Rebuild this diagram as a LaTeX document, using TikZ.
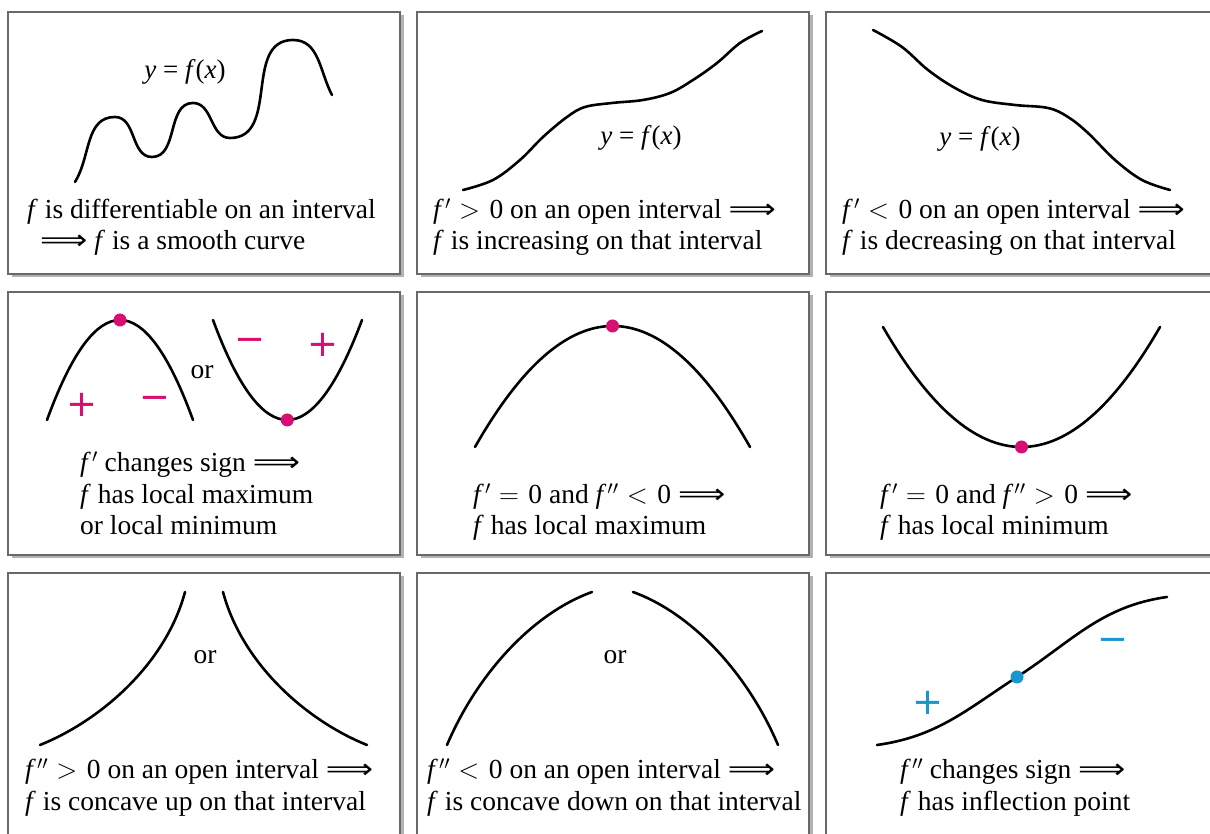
\RequirePackage{fix-cm}
\documentclass[tikz,border=0pt]{standalone}
\usepackage{fontspec}
\setmainfont{Liberation Serif}
\newfontfamily\signfont{DejaVu Sans}
\definecolor{pinkc}{RGB}{215,15,115}
\definecolor{bluec}{RGB}{25,150,210}
\definecolor{boxline}{RGB}{105,105,105}
\definecolor{shadowc}{RGB}{178,178,178}
\tikzset{
  panel/.style={draw=boxline, line width=1.3pt, fill=white},
  curve/.style={line width=2.6pt, line cap=round, black},
  txt/.style={anchor=base west, inner sep=0pt, text height=19pt, text depth=6pt, font=\fontsize{27.5}{31}\selectfont},
  ortxt/.style={inner sep=0pt, font=\fontsize{27.5}{31}\selectfont},
  lbl/.style={inner sep=0pt, font=\fontsize{27}{30}\selectfont},
  dotp/.style={circle, fill=pinkc, minimum size=13pt, inner sep=0pt},
  dotb/.style={circle, fill=bluec, minimum size=13pt, inner sep=0pt},
  sgnp/.style={text=pinkc, inner sep=0pt, font=\signfont\fontsize{37}{37}\selectfont},
  sgnb/.style={text=bluec, inner sep=0pt, font=\signfont\fontsize{37}{37}\selectfont},
}
\newcommand{\imp}{\scalebox{1.2}[1]{\signfont ⟹}}
\newcommand{\fp}{\textit{f}\kern1pt$'$}
\newcommand{\fpp}{\textit{f}\kern1pt$''$}
\newcommand{\ff}{\textit{f}}
\newcommand{\rel}[1]{\hspace{0.3em}$#1$\hspace{0.35em}}
\begin{document}
\begin{tikzpicture}[x=1pt,y=1pt]
\useasboundingbox (0,0) rectangle (1210,834);
\clip (0,0) rectangle (1210,834);
\fill[white] (0,0) rectangle (1210,834);
% boxes with shadows
\foreach \x in {8,417,826}{
  \foreach \yb/\yt in {560/822,279/542,-20/261}{
    \fill[shadowc] (\x+3.5,\yb-3.5) rectangle (\x+395.5,\yt-3.5);
    \draw[panel] (\x,\yb) rectangle (\x+392,\yt);
  }
}
% ---------- Panel 1
\draw[curve] (75,652) to[out=58,in=180] (115,717) to[out=0,in=180] (152,677)
  to[out=0,in=180] (193,731) to[out=0,in=180] (230,696) to[out=0,in=180,looseness=1.1] (293,794)
  to[out=0,in=118] (332,739);
\node[lbl] (l1) at (185,762) {\textit{y} = \textit{f}(\textit{x})};
\node[txt] (t1a) at (27,615) {\ff{} is differentiable on an interval};
\node[txt] (t1b) at (40,584) {\imp\ \ff{} is a smooth curve};
% ---------- Panel 2
\draw[curve] plot[smooth, tension=0.6] coordinates {(463,644) (493,654) (520,674) (543,697) (567,717) (585,727) (612,731) (643,734) (670,741) (693,754) (717,771) (740,791) (762,803)};
\node[lbl] (l2) at (641,696) {\textit{y} = \textit{f}(\textit{x})};
\node[txt] (t2a) at (433,615) {\fp\rel{>}0 on an open interval \imp};
\node[txt] (t2b) at (433,584) {\ff{} is increasing on that interval};
% ---------- Panel 3
\draw[curve] plot[smooth, tension=0.6] coordinates {(873,804) (902,787) (928,764) (955,746) (982,734) (1015,729) (1048,726) (1068,717) (1088,701) (1115,674) (1142,654) (1170,644)};
\node[lbl] (l3) at (980,695) {\textit{y} = \textit{f}(\textit{x})};
\node[txt] (t3a) at (842,615) {\fp\rel{<}0 on an open interval \imp};
\node[txt] (t3b) at (842,584) {\ff{} is decreasing on that interval};
% ---------- Panel 4
\draw[curve] (47,414) .. controls (95.67,547.33) and (144.33,547.33) .. (193,414);
\draw[curve] (213,514) .. controls (262.33,380.67) and (312,380.67) .. (362,514);
\node[dotp] (d4a) at (120,514) {};
\node[dotp] (d4b) at (287.25,414) {};
\node[sgnp] (s4a) at (82,429) {+};
\node[sgnp] (s4b) at (155,431) {−};
\node[sgnp] (s4c) at (250,489) {−};
\node[sgnp] (s4d) at (323,489) {+};
\node[ortxt] (or4) at (202,462) {or};
\node[txt] (t4a) at (80,362) {\fp\ changes sign \imp};
\node[txt] (t4b) at (80,330) {\ff{} has local maximum};
\node[txt] (t4c) at (80,299) {or local minimum};
% ---------- Panel 5
\draw[curve] (475,387) .. controls (567,548.33) and (658.67,548.33) .. (750,387);
\node[dotp] (d5) at (612.5,508) {};
\node[txt] (t5a) at (473,330) {\fp\rel{=}0 and \fpp\rel{<}0 \imp};
\node[txt] (t5b) at (473,299) {\ff{} has local maximum};
% ---------- Panel 6
\draw[curve] (883,507) .. controls (975.33,347) and (1067.67,347) .. (1160,507);
\node[dotp] (d6) at (1021.5,387) {};
\node[txt] (t6a) at (880,330) {\fp\rel{=}0 and \fpp\rel{>}0 \imp};
\node[txt] (t6b) at (880,299) {\ff{} has local minimum};
% ---------- Panel 7
\draw[curve] (40,89) .. controls (100.3,113.3) and (165.6,169.6) .. (185,242);
\draw[curve] (223,242) .. controls (242.4,169.6) and (306.7,113.3) .. (367,89);
\node[ortxt] (or7) at (205,177) {or};
\node[txt] (t7a) at (25,55) {\fpp\rel{>}0 on an open interval \imp};
\node[txt] (t7b) at (25,23) {\ff{} is concave up on that interval};
% ---------- Panel 8
\draw[curve] (447,89) .. controls (476.3,158) and (530.9,219.8) .. (592,242);
\draw[curve] (633,242) .. controls (694.1,219.8) and (748.7,158) .. (778,89);
\node[ortxt] (or8) at (615,177) {or};
\node[txt] (t8a) at (427,55) {\fpp\rel{<}0 on an open interval \imp};
\node[txt] (t8b) at (427,23) {\ff{} is concave down on that interval};
% ---------- Panel 9
\draw[curve] (877,89) to[out=8,in=213] (1017,157) to[out=33,in=188] (1167,237);
\node[dotb] (d9) at (1017,157) {};
\node[sgnb] (s9a) at (928,131) {+};
\node[sgnb] (s9b) at (1113,189) {−};
\node[txt] (t9a) at (900,55) {\fpp\ changes sign \imp};
\node[txt] (t9b) at (900,23) {\ff{} has inflection point};
\end{tikzpicture}
\end{document}
